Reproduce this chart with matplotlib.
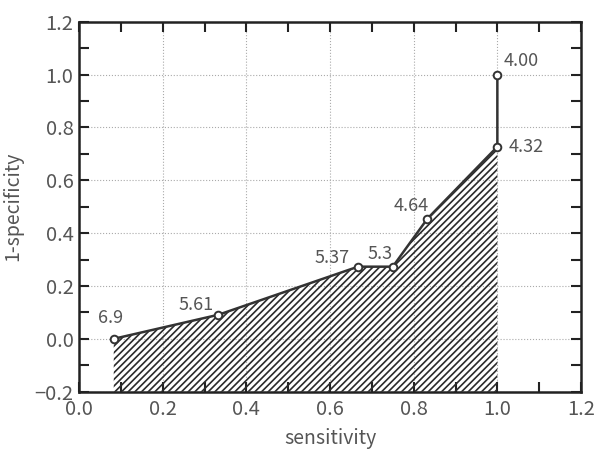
import matplotlib
matplotlib.use("Agg")
import matplotlib.pyplot as plt
from matplotlib.ticker import MultipleLocator

plt.rcParams['font.family'] = ['Noto Sans CJK KR', 'DejaVu Sans']
plt.rcParams['hatch.linewidth'] = 1.2

sensitivity = [0.083, 0.333, 0.667, 0.75, 0.833, 1.0, 1.0]
one_minus_spec = [0.0, 0.091, 0.273, 0.273, 0.455, 0.727, 1.0]
cutoffs = ["6.9", "5.61", "5.37", "5.3", "4.64", "4.32", "4.00"]
label_offsets = [(-2, 15), (-16, 7), (-19, 6), (-9, 9), (-12, 9), (21, 0), (17, 10)]

fig = plt.figure(figsize=(5.95, 4.5), dpi=100)
ax = fig.add_axes([0.1328, 0.1296, 0.8437, 0.8222])

ax.fill_between(sensitivity[:-1], -0.2, one_minus_spec[:-1], facecolor='none',
                edgecolor='#2a2a2a', hatch='/////', linewidth=0, zorder=2)
ax.plot(sensitivity, one_minus_spec, color='#333333', lw=1.8, zorder=3)
ax.plot(sensitivity, one_minus_spec, 'o', ms=5.5, mfc='white', mec='#333333',
        mew=1.4, zorder=4)

for x, y, t, off in zip(sensitivity, one_minus_spec, cutoffs, label_offsets):
    ax.annotate(t, (x, y), xytext=off, textcoords='offset points',
                ha='center', va='center', fontsize=13, color='#555555', zorder=5)

ax.set_xlim(0, 1.2)
ax.set_ylim(-0.2, 1.2)
ax.xaxis.set_major_locator(MultipleLocator(0.2))
ax.yaxis.set_major_locator(MultipleLocator(0.2))
ax.xaxis.set_minor_locator(MultipleLocator(0.1))
ax.yaxis.set_minor_locator(MultipleLocator(0.1))
ax.tick_params(which='both', direction='in', top=True, right=True, colors='#222222',
               labelcolor='#555555', labelsize=14.5, width=1.5)
ax.tick_params(which='major', length=7)
ax.tick_params(which='minor', length=7)
ax.tick_params(axis='x', pad=5)
ax.tick_params(axis='y', pad=4)
ax.set_xticks([0.0, 0.2, 0.4, 0.6, 0.8, 1.0, 1.2])
ax.set_xticklabels(["0.0", "0.2", "0.4", "0.6", "0.8", "1.0", "1.2"])
ax.set_yticks([-0.2, 0.0, 0.2, 0.4, 0.6, 0.8, 1.0, 1.2])
ax.set_yticklabels(["\u22120.2", "0.0", "0.2", "0.4", "0.6", "0.8", "1.0", "1.2"])
ax.grid(True, which='major', linestyle=':', color='#aaaaaa', lw=0.8, zorder=0)
ax.set_axisbelow(True)
for s in ax.spines.values():
    s.set_linewidth(1.8)
    s.set_color('#222222')

ax.set_xlabel("sensitivity", fontsize=14, color='#555555', labelpad=6)
ax.set_ylabel("1-specificity", fontsize=14, color='#555555', labelpad=8)

fig.savefig("out.png", dpi=100)
